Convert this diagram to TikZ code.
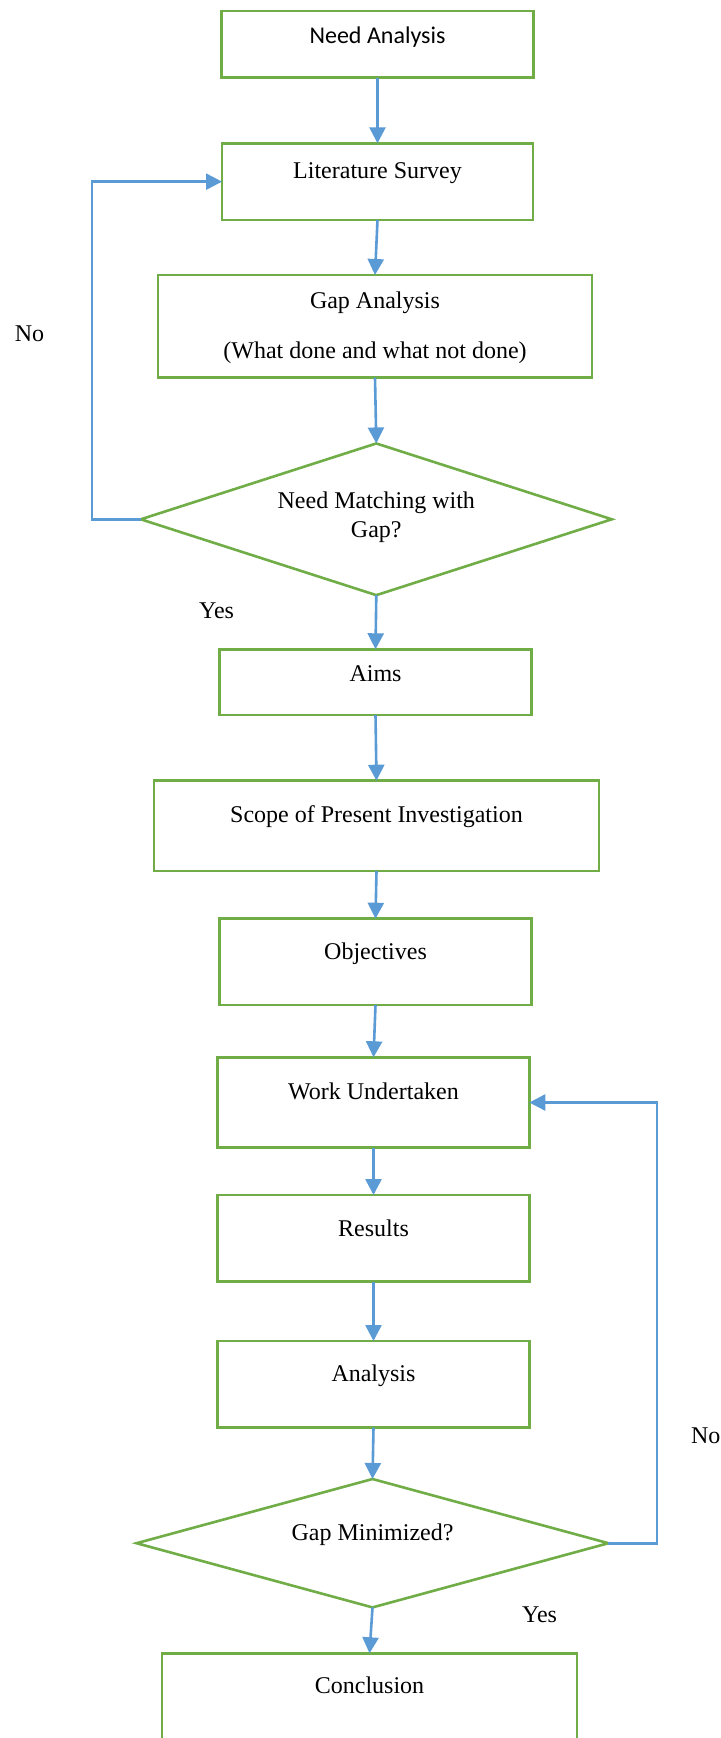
\documentclass[tikz,border=0pt]{standalone}
\usepackage{fontspec}
\setmainfont{Liberation Serif}
\newfontfamily\calibrifont{Carlito}
\usetikzlibrary{arrows.meta,shapes.geometric}
\definecolor{boxgreen}{HTML}{70AD47}
\definecolor{arrowblue}{HTML}{5B9BD5}
\begin{document}
\begin{tikzpicture}[x=0.5pt,y=-0.5pt,
  box/.style={draw=boxgreen, line width=1.3pt, rectangle, inner sep=0pt, outer sep=0pt, anchor=north,
    font=\fontsize{12pt}{14.5pt}\selectfont},
  bx/.style n args={3}{box, minimum width=#1, text height=#2, text depth=#3},
  dec/.style={draw=boxgreen, line width=1.3pt, diamond, inner sep=0pt, outer sep=0pt, align=center,
    font=\fontsize{12pt}{14.5pt}\selectfont},
  flow/.style={draw=arrowblue, line width=1.3pt, -{Triangle[length=8pt,width=8pt]}},
  lbl/.style={anchor=base, inner sep=0pt, font=\fontsize{12pt}{14.5pt}\selectfont}]
\useasboundingbox (0,0) rectangle (720,1738);
\fill[white] (0,0) rectangle (720,1738);
\clip (0,0) rectangle (720,1738);

\node[bx={156pt}{16.5pt}{16.85pt}, font=\calibrifont\fontsize{12pt}{14.5pt}\selectfont] (need) at (377.5,11) {Need Analysis};
\node[bx={155.5pt}{17.5pt}{20.85pt}] (lit) at (377.5,143.3) {Literature Survey};
\node[bx={217pt}{41.65pt}{9.7pt}, align=center, font=\fontsize{12pt}{25pt}\selectfont] (gap) at (375,275) {Gap Analysis\\(What done and what not done)};
\node[dec, minimum width=235.5pt, minimum height=75.85pt, shape aspect=3.1, text height=22pt, text depth=4pt] (d1) at (376.3,519.3) {Need Matching with\\Gap?};
\node[bx={156pt}{16.2pt}{16.65pt}] (aims) at (375.5,649.3) {Aims};
\node[bx={222.5pt}{21pt}{24.15pt}] (scope) at (376.5,780.7) {Scope of Present Investigation};
\node[bx={156pt}{20.3pt}{22.85pt}] (obj) at (375.5,918.7) {Objectives};
\node[bx={155.8pt}{21pt}{24.2pt}] (work) at (373.5,1057.3) {Work Undertaken};
\node[bx={155.8pt}{20.5pt}{22.85pt}] (res) at (373.5,1195) {Results};
\node[bx={155.8pt}{20.35pt}{23pt}] (ana) at (373.5,1341) {Analysis};
\node[dec, minimum width=235.9pt, minimum height=64.2pt, shape aspect=3.67, text height=8pt, text depth=11.2pt] (d2) at (372.5,1543.2) {Gap Minimized?};
\node[bx={207.5pt}{20pt}{33.35pt}] (concl) at (369.5,1653.3) {Conclusion};

\node[lbl] (no1) at (29.5,341.7) {No};
\node[lbl] (yes1) at (216.6,618.3) {Yes};
\node[lbl] (no2) at (705.7,1443.3) {No};
\node[lbl] (yes2) at (539.6,1622.7) {Yes};

\draw[flow] (need.south) -- (lit.north);
\draw[flow] (lit.south) -- (gap.north);
\draw[flow] (gap.south) -- (d1.north);
\draw[flow] (d1.south) -- (aims.north);
\draw[flow] (aims.south) -- (scope.north);
\draw[flow] (scope.south) -- (obj.north);
\draw[flow] (obj.south) -- (work.north);
\draw[flow] (work.south) -- (res.north);
\draw[flow] (res.south) -- (ana.north);
\draw[flow] (ana.south) -- (d2.north);
\draw[flow] (d2.south) -- (concl.north);

\coordinate (loopL) at (92,519.3);
\coordinate (loopR) at (657,1543.2);
\draw[flow] (d1.west) -- (loopL) |- (lit.west);
\draw[flow] (d2.east) -- (loopR) |- (work.east);
\end{tikzpicture}
\end{document}
